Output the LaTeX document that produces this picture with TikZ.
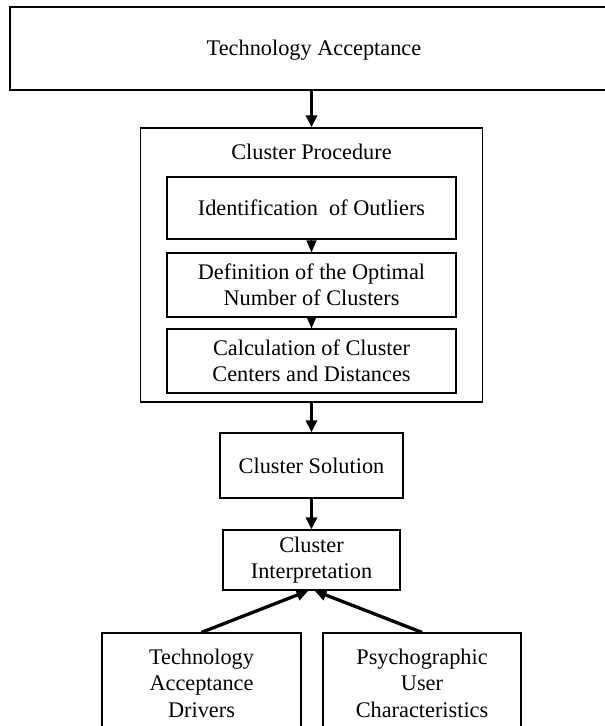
\documentclass[tikz,border=0pt]{standalone}
\usepackage{fontspec}
\setmainfont{Liberation Serif}
\usetikzlibrary{arrows.meta}
\newcommand{\fsz}{\fontsize{22.3}{26.5}\selectfont}
\begin{document}
\begin{tikzpicture}[x=1pt,y=-1pt,
  box/.style={draw, line width=1.2pt, align=center, inner sep=0pt, font=\fsz},
  lbl/.style={inner sep=0pt, font=\fsz},
  bigarr/.style={line width=3.3pt, -{Triangle[length=12pt,width=11pt]}},
  smallarr/.style={line width=1.2pt, -{Triangle[length=12pt,width=10pt]}}]
\useasboundingbox (0,0) rectangle (605,726);
\clip (0,0) rectangle (605,726);
\node[box, minimum width=640pt, minimum height=83pt] (ta) at (330,48.5) {};
\node[lbl] (tat) at (314,50) {Technology Acceptance};
\node[box, minimum width=342pt, minimum height=274pt] (cp) at (311.5,265) {};
\node[lbl] (cpt) at (311.5,152) {Cluster Procedure};
\node[box, minimum width=289pt, minimum height=62pt] (b1) at (311.5,208) {Identification~ of Outliers};
\node[box, minimum width=289pt, minimum height=64pt] (b2) at (311.5,285) {Definition of the Optimal\\Number of Clusters};
\node[box, minimum width=289pt, minimum height=64pt] (b3) at (311.5,361) {Calculation of Cluster\\Centers and Distances};
\node[box, minimum width=183pt, minimum height=65pt] (cs) at (311.5,465.5) {Cluster Solution};
\node[box, minimum width=177pt, minimum height=60pt] (ci) at (311.5,560) {Cluster\\Interpretation};
\node[box, minimum width=199pt, minimum height=100pt] (tad) at (201.5,683) {Technology\\Acceptance\\Drivers};
\node[box, minimum width=198pt, minimum height=100pt] (puc) at (422,683) {Psychographic\\User\\Characteristics};
\draw[bigarr] (ta.south -| cp.north) -- (cp.north);
\draw[smallarr] (b1.south) -- (b2.north);
\draw[smallarr] (b2.south) -- (b3.north);
\draw[bigarr] (cp.south) -- (cs.north);
\draw[bigarr] (cs.south) -- (ci.north);
\draw[bigarr] (tad.north) -- ([xshift=-3pt]ci.south);
\draw[bigarr] (puc.north) -- ([xshift=3pt]ci.south);
\end{tikzpicture}
\end{document}
